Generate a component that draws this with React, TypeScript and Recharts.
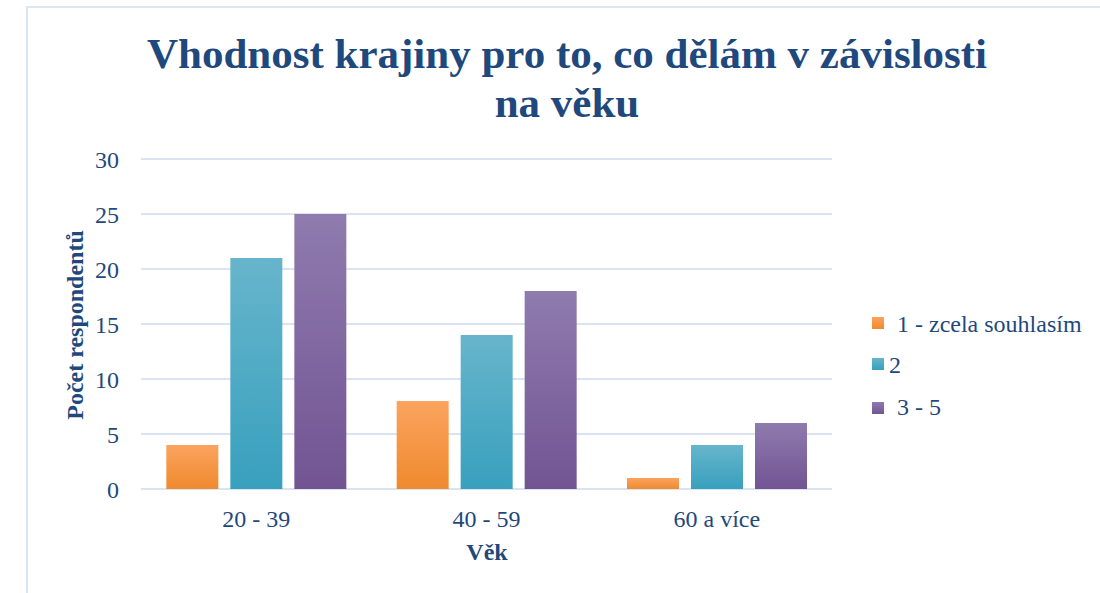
import { Bar, BarChart, CartesianGrid, XAxis, YAxis } from "recharts";

const ageGroups = ["20 - 39", "40 - 59", "60 a více"];
const fullyAgree = [4, 8, 1];
const agree = [21, 14, 4];
const neutralOrLess = [25, 18, 6];
const yTicks = [0, 5, 10, 15, 20, 25, 30];

const seriesNames = ["1 - zcela souhlasím", "2", "3 - 5"];

const chartData = ageGroups.map((group, i) => ({
  group,
  s1: fullyAgree[i],
  s2: agree[i],
  s3: neutralOrLess[i],
}));

const textColor = "#1F497D";
const serif = "'Liberation Serif', 'Times New Roman', serif";

const legendItems = [
  { name: seriesNames[0], top: 311, swatchTop: 317, textLeft: 897 },
  { name: seriesNames[1], top: 352, swatchTop: 358, textLeft: 889 },
  { name: seriesNames[2], top: 394, swatchTop: 402, textLeft: 897 },
];

const swatchColors = [
  ["#FBA35F", "#EF8A2E"],
  ["#67B5CC", "#38A0BD"],
  ["#8F7BAE", "#725493"],
];

export default function App() {
  return (
    <div
      style={{
        position: "fixed",
        left: 0,
        top: 0,
        width: 1100,
        height: 593,
        background: "#fff",
        overflow: "hidden",
        fontFamily: serif,
      }}
    >
      {/* frame of the original chart object */}
      <div
        style={{
          position: "absolute",
          left: 26,
          top: 6,
          width: 1100,
          height: 620,
          borderLeft: "2px solid #DCE6F2",
          borderTop: "2px solid #DCE6F2",
        }}
      />

      <div
        style={{
          position: "absolute",
          left: 0,
          top: 29,
          width: 1134,
          textAlign: "center",
          color: textColor,
          fontWeight: "bold",
          fontSize: 43,
          lineHeight: "49px",
        }}
      >
        Vhodnost krajiny pro to, co dělám v závislosti
        <br />
        na věku
      </div>

      <BarChart
        width={1100}
        height={593}
        data={chartData}
        margin={{ top: 159, right: 268, left: 81, bottom: 74 }}
        barCategoryGap="11%"
        barGap={12}
      >
        <defs>
          <linearGradient id="gOrange" x1="0" y1="0" x2="0" y2="1">
            <stop offset="0%" stopColor={swatchColors[0][0]} />
            <stop offset="100%" stopColor={swatchColors[0][1]} />
          </linearGradient>
          <linearGradient id="gTeal" x1="0" y1="0" x2="0" y2="1">
            <stop offset="0%" stopColor={swatchColors[1][0]} />
            <stop offset="100%" stopColor={swatchColors[1][1]} />
          </linearGradient>
          <linearGradient id="gPurple" x1="0" y1="0" x2="0" y2="1">
            <stop offset="0%" stopColor={swatchColors[2][0]} />
            <stop offset="100%" stopColor={swatchColors[2][1]} />
          </linearGradient>
        </defs>
        <CartesianGrid vertical={false} stroke="#D9E3F1" strokeWidth={2} />
        <XAxis
          dataKey="group"
          axisLine={false}
          tickLine={false}
          tickMargin={15}
          height={30}
          tick={{ fill: textColor, fontSize: 24, fontFamily: serif }}
        />
        <YAxis
          domain={[0, 30]}
          ticks={yTicks}
          axisLine={false}
          tickLine={false}
          tickMargin={16}
          width={60}
          tick={{ fill: textColor, fontSize: 24, fontFamily: serif }}
        />
        <Bar dataKey="s1" name={seriesNames[0]} fill="url(#gOrange)" isAnimationActive={false} />
        <Bar dataKey="s2" name={seriesNames[1]} fill="url(#gTeal)" isAnimationActive={false} />
        <Bar dataKey="s3" name={seriesNames[2]} fill="url(#gPurple)" isAnimationActive={false} />
      </BarChart>

      <div
        style={{
          position: "absolute",
          left: 75,
          top: 325,
          transform: "translate(-50%, -50%) rotate(-90deg)",
          color: textColor,
          fontWeight: "bold",
          fontSize: 24,
          lineHeight: "24px",
          whiteSpace: "nowrap",
        }}
      >
        Počet respondentů
      </div>

      <div
        style={{
          position: "absolute",
          left: 487,
          top: 539,
          transform: "translateX(-50%)",
          color: textColor,
          fontWeight: "bold",
          fontSize: 24,
        }}
      >
        Věk
      </div>

      {legendItems.map((item, i) => (
        <div key={item.name}>
          <div
            style={{
              position: "absolute",
              left: 872,
              top: item.swatchTop,
              width: 12,
              height: 12,
              background: `linear-gradient(${swatchColors[i][0]}, ${swatchColors[i][1]})`,
            }}
          />
          <div
            style={{
              position: "absolute",
              left: item.textLeft,
              top: item.top,
              color: textColor,
              fontSize: 24,
              whiteSpace: "nowrap",
            }}
          >
            {item.name}
          </div>
        </div>
      ))}
    </div>
  );
}
